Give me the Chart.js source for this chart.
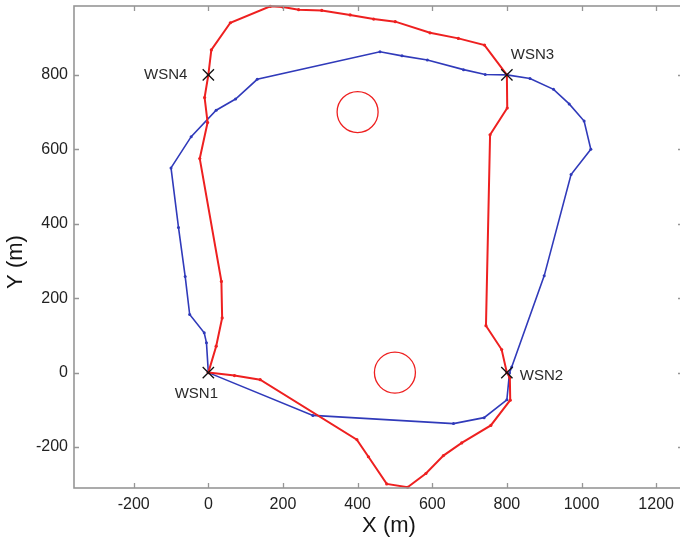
<!DOCTYPE html>
<html>
<head>
<meta charset="utf-8">
<script src="https://cdn.jsdelivr.net/npm/chart.js@4/dist/chart.umd.min.js"></script>
<style>
html,body{margin:0;padding:0;background:#fff;overflow:hidden;}
#wrap{position:absolute;left:0;top:0;width:700px;height:543px;}
</style>
</head>
<body>
<div id="wrap"><canvas id="c" width="700" height="543"></canvas></div>
<script>
// ---- data ----
const redX = [0, 70, 139, 398, 429, 478, 534, 583, 630, 679, 757, 809, 808, 800, 786, 744, 755, 801, 800, 740, 670, 594, 501, 443, 380, 304, 242, 200, 166, 59, 8, 0, -10, -2, -23, 35, 37, 21, 0];
const redY = [0, -8, -19, -180, -226, -299, -308, -271, -223, -189, -142, -74, -14, 0, 62, 126, 639, 711, 800, 880, 898, 913, 943, 950, 961, 973, 975, 982, 984, 940, 867, 800, 739, 672, 575, 245, 147, 71, 0];

const blueX = [0, 280, 657, 739, 800, 807, 813, 900, 972, 1025, 1007, 967, 925, 862, 800, 742, 684, 587, 519, 460, 131, 73, 21, -46, -100, -80, -62, -50, -11, -5, 0];
const blueY = [0, -115, -137, -121, -73, -1, 15, 260, 532, 600, 676, 722, 761, 790, 800, 801, 814, 840, 851, 862, 788, 735, 705, 634, 550, 390, 258, 156, 107, 80, 0];

const obstacleX = [400, 500];
const obstacleY = [700, 0];

const wsnNames = ["WSN1", "WSN2", "WSN3", "WSN4"];
const wsnX = [0, 800, 800, 0];
const wsnY = [0, 0, 800, 800];

const xTicks = [-200, 0, 200, 400, 600, 800, 1000, 1200];
const yTicks = [-200, 0, 200, 400, 600, 800];

const xTitle = "X (m)";
const yTitle = "Y (m)";

// ---- build ----
const pts = (xs, ys) => xs.map((x, i) => ({x: x, y: ys[i]}));
const RED = 'rgb(238,32,32)';
const BLUE = 'rgb(48,58,186)';
const FONT = "'Liberation Sans', Arial, Helvetica, sans-serif";

const framePlugin = {
  id: 'frame',
  afterDatasetsDraw(chart) {
    const ctx = chart.ctx;
    const a = chart.chartArea;
    const xs = chart.scales.x, ys = chart.scales.y;
    ctx.save();
    ctx.strokeStyle = 'rgb(150,150,150)';
    ctx.lineWidth = 1.6;
    ctx.strokeRect(a.left, a.top, a.right - a.left, a.bottom - a.top);
    ctx.lineWidth = 1.3;
    ctx.beginPath();
    xTicks.forEach(v => {
      const p = Math.round(xs.getPixelForValue(v)) + 0.5;
      ctx.moveTo(p, a.bottom); ctx.lineTo(p, a.bottom - 5);
      ctx.moveTo(p, a.top); ctx.lineTo(p, a.top + 5);
    });
    yTicks.forEach(v => {
      const p = Math.round(ys.getPixelForValue(v)) + 0.5;
      ctx.moveTo(a.left, p); ctx.lineTo(a.left + 5, p);
      ctx.moveTo(a.right, p); ctx.lineTo(a.right - 5, p);
    });
    ctx.stroke();

    // WSN labels
    ctx.fillStyle = '#2a2a2a';
    ctx.font = '15px ' + FONT;
    ctx.textBaseline = 'middle';
    const offs = [
      {dx: -12, dy: 21, align: 'center'},
      {dx: 13, dy: 3, align: 'left'},
      {dx: 4, dy: -20, align: 'left'},
      {dx: -21, dy: 0, align: 'right'}
    ];
    wsnNames.forEach((n, i) => {
      const px = xs.getPixelForValue(wsnX[i]);
      const py = ys.getPixelForValue(wsnY[i]);
      ctx.textAlign = offs[i].align;
      ctx.fillText(n, px + offs[i].dx, py + offs[i].dy);
    });

    // axis titles
    ctx.fillStyle = '#151515';
    ctx.font = '22px ' + FONT;
    ctx.textAlign = 'center';
    ctx.textBaseline = 'middle';
    ctx.fillText(xTitle, 389, 526);
    ctx.save();
    ctx.translate(16, 262);
    ctx.rotate(-Math.PI / 2);
    ctx.fillText(yTitle, 0, 0);
    ctx.restore();
    ctx.restore();
  }
};

new Chart(document.getElementById('c'), {
  type: 'scatter',
  data: {
    datasets: [
      {
        label: 'WSN',
        data: pts(wsnX, wsnY),
        pointStyle: 'crossRot',
        pointRadius: 8,
        pointBorderWidth: 1.3,
        borderColor: '#111',
        backgroundColor: '#111',
        showLine: false,
        order: 0
      },
      {
        label: 'red',
        data: pts(redX, redY),
        showLine: true,
        borderColor: RED,
        backgroundColor: RED,
        borderWidth: 2,
        pointRadius: 1.6,
        pointBorderWidth: 0,
        tension: 0,
        order: 1
      },
      {
        label: 'blue',
        data: pts(blueX, blueY),
        showLine: true,
        borderColor: BLUE,
        backgroundColor: BLUE,
        borderWidth: 1.6,
        pointRadius: 1.5,
        pointBorderWidth: 0,
        tension: 0,
        order: 2
      },
      {
        label: 'obstacles',
        data: pts(obstacleX, obstacleY),
        showLine: false,
        pointStyle: 'circle',
        pointRadius: 20.5,
        pointBorderWidth: 1.3,
        borderColor: RED,
        backgroundColor: 'rgba(0,0,0,0)',
        order: 3
      }
    ]
  },
  options: {
    responsive: false,
    animation: false,
    clip: false,
    layout: {autoPadding: false, padding: {left: 0, top: 6, right: 17, bottom: 0}},
    plugins: {legend: {display: false}, tooltip: {enabled: false}},
    scales: {
      x: {
        type: 'linear',
        min: -360,
        max: 1272,
        afterBuildTicks: s => { s.ticks = xTicks.map(v => ({value: v})); },
        afterFit: s => { s.height = 55; s.paddingLeft = 0; s.paddingRight = 0; },
        grid: {display: false, drawTicks: false},
        border: {display: false},
        ticks: {padding: 7, color: '#222', font: {size: 16, family: FONT}, maxRotation: 0, autoSkip: false,
                callback: v => String(v)}
      },
      y: {
        type: 'linear',
        min: -310,
        max: 985,
        afterBuildTicks: s => { s.ticks = yTicks.map(v => ({value: v})); },
        afterFit: s => { s.width = 74; s.paddingTop = 0; s.paddingBottom = 0; },
        grid: {display: false, drawTicks: false},
        border: {display: false},
        ticks: {padding: 6, color: '#222', font: {size: 16, family: FONT}, autoSkip: false,
                callback: v => String(v)}
      }
    }
  },
  plugins: [framePlugin]
});
</script>
</body>
</html>
